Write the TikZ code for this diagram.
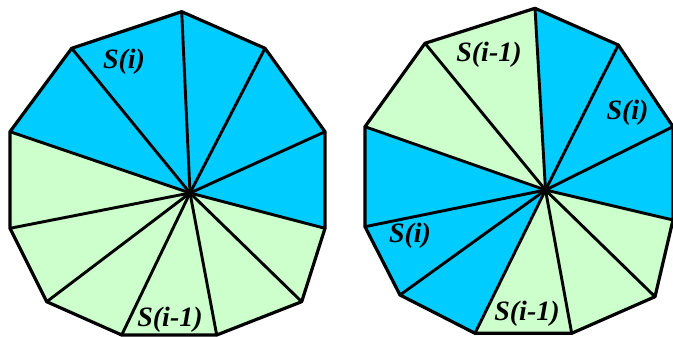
\documentclass[tikz,border=0pt]{standalone}
\usepackage{fontspec}
\setmainfont{Liberation Serif}
\definecolor{wblue}{RGB}{0,204,255}
\definecolor{wgreen}{RGB}{204,255,204}
\begin{document}
\begin{tikzpicture}[x=1pt,y=-1pt,
  edge/.style={line width=3.2pt,line join=round,line cap=round},
  spoke/.style={line width=2.9pt,line cap=round},
  lab/.style={font=\fontsize{28}{32}\selectfont\bfseries\itshape,inner sep=0pt}]
\useasboundingbox (0,0) rectangle (673,337);
% left polygon
\coordinate (A1) at (181.7,11.7);
\coordinate (A2) at (265,48.3);
\coordinate (A3) at (325,131.7);
\coordinate (A4) at (325,228.3);
\coordinate (A5) at (301.7,301.7);
\coordinate (A6) at (216.7,335);
\coordinate (A7) at (121.7,335);
\coordinate (A8) at (46.7,301.7);
\coordinate (A9) at (10,228.3);
\coordinate (A10) at (10,131.7);
\coordinate (A11) at (71.7,48.3);
\coordinate (C) at (190,193);
% right polygon
\coordinate (B1) at (535,8.3);
\coordinate (B2) at (618.3,45);
\coordinate (B3) at (673,126.7);
\coordinate (B4) at (673,220);
\coordinate (B5) at (655,296.7);
\coordinate (B6) at (571.7,333.3);
\coordinate (B7) at (475,333.3);
\coordinate (B8) at (400,295);
\coordinate (B9) at (365,226.7);
\coordinate (B10) at (365,126.7);
\coordinate (B11) at (425,43.3);
\coordinate (D) at (545.5,190);
% fills
\foreach \i/\j/\c in {1/2/wblue,2/3/wblue,3/4/wblue,4/5/wgreen,5/6/wgreen,6/7/wgreen,7/8/wgreen,8/9/wgreen,9/10/wgreen,10/11/wblue,11/1/wblue}
  \fill[\c] (C) -- (A\i) -- (A\j) -- cycle;
\foreach \i/\j/\c in {1/2/wblue,2/3/wblue,3/4/wblue,4/5/wgreen,5/6/wgreen,6/7/wgreen,7/8/wblue,8/9/wblue,9/10/wblue,10/11/wgreen,11/1/wgreen}
  \fill[\c] (D) -- (B\i) -- (B\j) -- cycle;
% spokes
\foreach \i in {1,...,11} {
  \draw[spoke] (C) -- (A\i);
  \draw[spoke] (D) -- (B\i);
}
% outlines
\draw[edge] (A1) -- (A2) -- (A3) -- (A4) -- (A5) -- (A6) -- (A7) -- (A8) -- (A9) -- (A10) -- (A11) -- cycle;
\draw[edge] (B1) -- (B2) -- (B3) -- (B4) -- (B5) -- (B6) -- (B7) -- (B8) -- (B9) -- (B10) -- (B11) -- cycle;
% centres
\fill (C) circle (4.5pt);
\fill (D) circle (4.5pt);
% labels
\node[lab] (l1) at (124,62) {S(i)};
\node[lab] (l2) at (170,320) {S(i-1)};
\node[lab] (r1) at (489,55) {S(i-1)};
\node[lab] (r2) at (627.5,113) {S(i)};
\node[lab] (r3) at (410,236) {S(i)};
\node[lab] (r4) at (527,313.5) {S(i-1)};
\end{tikzpicture}
\end{document}
